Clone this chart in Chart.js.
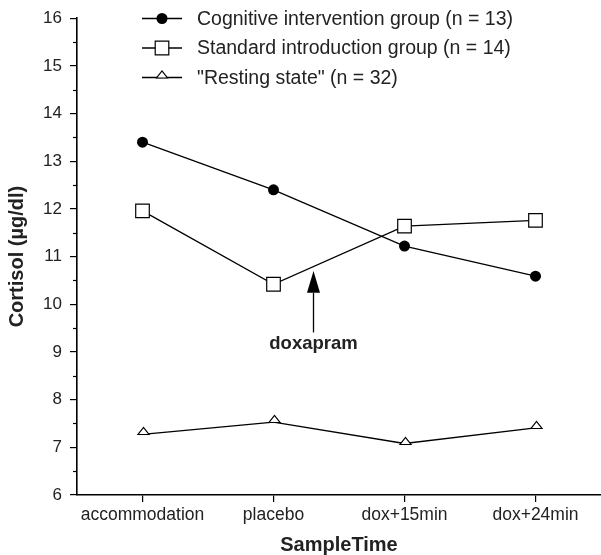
<!DOCTYPE html>
<html>
<head>
<meta charset="utf-8">
<script src="https://cdn.jsdelivr.net/npm/chart.js@4.4.1/dist/chart.umd.min.js"></script>
<style>
html,body{margin:0;padding:0;background:#fff;}
canvas{display:block;}
</style>
</head>
<body>
<canvas id="c" width="601" height="555"></canvas>
<script>
// ---- data ----
const categories = ['accommodation', 'placebo', 'dox+15min', 'dox+24min'];
const cognitive = [13.40, 12.40, 11.22, 10.59];
const standard = [11.96, 10.42, 11.64, 11.76];
const resting = [7.27, 7.53, 7.08, 7.41];
const seriesNames = ['Cognitive intervention group (n = 13)', 'Standard introduction group (n = 14)', '"Resting state" (n = 32)'];
const yMin = 6, yMax = 16, yStep = 1;
const xTitle = 'SampleTime';
const yTitle = 'Cortisol (µg/dl)';
// annotation: arrow at category position 1.3, from 9.41 up to 10.70
const arrowText = 'doxapram';
const arrowX = 1.3;
const arrowTip = 10.70, arrowHeadBase = 10.24, arrowTail = 9.41, arrowLabelY = 9.17;

const FONT = "'Liberation Sans', Arial, Helvetica, sans-serif";
Chart.defaults.font.family = FONT;
Chart.defaults.color = '#222';

// open triangle whose base sits on the point
function drawTriangle(ctx, x, y) {
  ctx.save();
  ctx.beginPath();
  ctx.moveTo(x - 5.5, y + 0.5);
  ctx.lineTo(x + 5.5, y + 0.5);
  ctx.lineTo(x, y - 6.5);
  ctx.closePath();
  ctx.fillStyle = '#fff';
  ctx.fill();
  ctx.lineWidth = 1.2;
  ctx.strokeStyle = '#000';
  ctx.stroke();
  ctx.restore();
}

function drawMarker(ctx, ds, x, y) {
  const st = ds.markerKind;
  ctx.save();
  if (st === 'circle') {
    ctx.beginPath();
    ctx.arc(x, y, ds.pointRadius, 0, Math.PI * 2);
    ctx.fillStyle = ds.pointBackgroundColor;
    ctx.fill();
  } else if (st === 'rect') {
    const s = ds.pointRadius * Math.SQRT1_2;
    ctx.beginPath();
    ctx.rect(x - s, y - s, 2 * s, 2 * s);
    ctx.fillStyle = ds.pointBackgroundColor;
    ctx.fill();
    ctx.lineWidth = ds.pointBorderWidth;
    ctx.strokeStyle = ds.pointBorderColor;
    ctx.stroke();
  } else {
    drawTriangle(ctx, x, y);
  }
  ctx.restore();
}

const triMarkers = {
  id: 'triMarkers',
  afterDatasetsDraw(chart) {
    const ctx = chart.ctx;
    chart.data.datasets.forEach((ds, i) => {
      if (ds.markerKind !== 'triangle') return;
      chart.getDatasetMeta(i).data.forEach(pt => drawTriangle(ctx, Math.round(pt.x) + 0.5, Math.round(pt.y)));
    });
  }
};

const customLegend = {
  id: 'customLegend',
  afterDraw(chart) {
    const ctx = chart.ctx;
    const rows = [18.5, 48, 77.5];
    chart.data.datasets.forEach((ds, i) => {
      const y = rows[i];
      ctx.save();
      ctx.strokeStyle = '#000';
      ctx.lineWidth = 1.3;
      ctx.beginPath();
      ctx.moveTo(142, y);
      ctx.lineTo(182, y);
      ctx.stroke();
      ctx.restore();
      drawMarker(ctx, ds, 162, y);
      ctx.save();
      ctx.fillStyle = '#222';
      ctx.font = '19.5px ' + FONT;
      ctx.textBaseline = 'middle';
      ctx.textAlign = 'left';
      ctx.fillText(ds.label, 197, y + 1);
      ctx.restore();
    });
  }
};

const extras = {
  id: 'extras',
  afterDraw(chart) {
    const ctx = chart.ctx;
    const xs = chart.scales.x, ys = chart.scales.y;
    // minor ticks on y axis
    ctx.save();
    ctx.strokeStyle = '#000';
    ctx.lineWidth = 1.2;
    for (let v = yMin + yStep / 2; v < yMax; v += yStep) {
      const py = Math.round(ys.getPixelForValue(v)) + 0.5;
      ctx.beginPath();
      ctx.moveTo(ys.right - 4, py);
      ctx.lineTo(ys.right, py);
      ctx.stroke();
    }
    // arrow
    const ax = Math.round(xs.getPixelForValue(arrowX)) + 0.5;
    const tipY = ys.getPixelForValue(arrowTip);
    const baseY = ys.getPixelForValue(arrowHeadBase);
    const tailY = ys.getPixelForValue(arrowTail);
    ctx.lineWidth = 1.3;
    ctx.beginPath();
    ctx.moveTo(ax, tailY);
    ctx.lineTo(ax, baseY);
    ctx.stroke();
    ctx.beginPath();
    ctx.moveTo(ax, tipY);
    ctx.lineTo(ax - 6.5, baseY);
    ctx.lineTo(ax + 6.5, baseY);
    ctx.closePath();
    ctx.fillStyle = '#000';
    ctx.fill();
    ctx.font = 'bold 18.5px ' + FONT;
    ctx.fillStyle = '#222';
    ctx.textAlign = 'center';
    ctx.textBaseline = 'middle';
    ctx.fillText(arrowText, ax, ys.getPixelForValue(arrowLabelY));
    ctx.restore();
  }
};

const lineCommon = {
  borderColor: '#000',
  borderWidth: 1.3,
  tension: 0,
  fill: false,
  pointBorderColor: '#000',
  pointBorderWidth: 1.2,
  pointHoverRadius: 0
};

new Chart(document.getElementById('c'), {
  type: 'line',
  data: {
    labels: categories,
    datasets: [
      Object.assign({}, lineCommon, { label: seriesNames[0], data: cognitive, markerKind: 'circle', pointStyle: 'circle', pointRadius: 5.5, pointBackgroundColor: '#000', pointBorderWidth: 0 }),
      Object.assign({}, lineCommon, { label: seriesNames[1], data: standard, markerKind: 'rect', pointStyle: 'rect', pointRadius: 9.6, pointBackgroundColor: '#fff' }),
      Object.assign({}, lineCommon, { label: seriesNames[2], data: resting, markerKind: 'triangle', pointStyle: 'triangle', pointRadius: 0, pointBackgroundColor: '#fff' })
    ]
  },
  options: {
    responsive: false,
    animation: false,
    events: [],
    layout: { autoPadding: false, padding: { top: 16, right: -3, left: 0, bottom: 0 } },
    plugins: { legend: { display: false }, tooltip: { enabled: false } },
    scales: {
      x: {
        type: 'category',
        offset: true,
        grid: { display: true, drawOnChartArea: false, drawTicks: true, tickLength: 7, offset: false, color: '#000', lineWidth: 1.2 },
        border: { display: true, color: '#000', width: 1.6 },
        ticks: { padding: 3, color: '#222', font: { size: 17.5 }, maxRotation: 0, minRotation: 0, autoSkip: false },
        title: { display: true, text: xTitle, color: '#222', font: { size: 20, weight: 'bold', lineHeight: 1 }, padding: { top: 0, bottom: 0 } },
        afterFit(s) { s.height = 60; s.paddingRight = 0; s.paddingLeft = 0; }
      },
      y: {
        min: yMin, max: yMax,
        ticks: { stepSize: yStep, padding: 8, color: '#222', font: { size: 17 } },
        grid: { display: true, drawOnChartArea: false, drawTicks: true, tickLength: 7, color: '#000', lineWidth: 1.2 },
        border: { display: true, color: '#000', width: 1.6 },
        title: { display: true, text: yTitle, color: '#222', font: { size: 20, weight: 'bold', lineHeight: 1 }, padding: { top: 7, bottom: 0 } },
        afterFit(s) { s.width = 77; }
      }
    }
  },
  plugins: [triMarkers, customLegend, extras]
});
</script>
</body>
</html>
